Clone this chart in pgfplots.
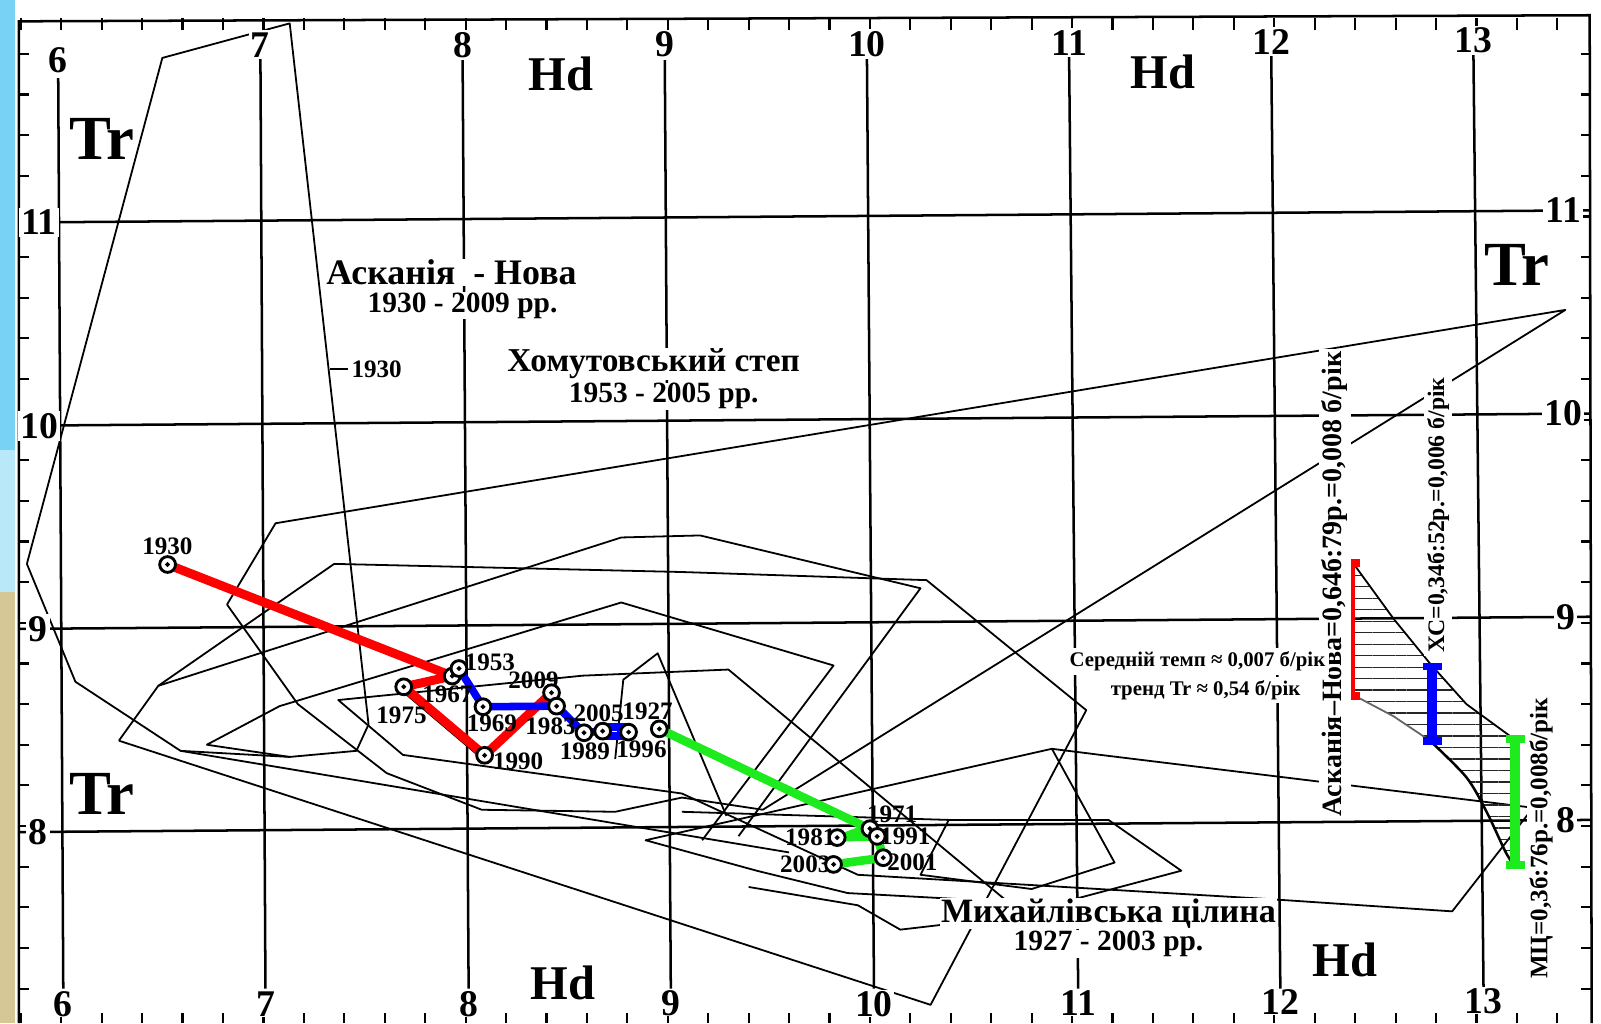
\documentclass[border=0pt]{standalone}
\usepackage{fontspec}
\setmainfont{Liberation Serif}
\usepackage{pgfplots}
\pgfplotsset{compat=1.18}
\usetikzlibrary{patterns.meta}
\definecolor{cred}{RGB}{255,0,0}
\definecolor{cblue}{RGB}{0,0,255}
\definecolor{cgreen}{RGB}{30,235,30}
\definecolor{stripblue}{RGB}{120,210,245}
\definecolor{stripblue2}{RGB}{185,232,248}
\definecolor{striptan}{RGB}{214,200,150}
\tikzset{
  poly/.style={black, line width=0.5pt, line join=round, mark=none},
  grd/.style={black, line width=0.7pt},
  lbl/.style={font=\bfseries\fontsize{10.5}{11}\selectfont, fill=white, inner sep=0.6pt},
  yr/.style={font=\bfseries\fontsize{7}{8}\selectfont, inner sep=0pt},
  big/.style={font=\bfseries\fontsize{17.5}{18}\selectfont, inner sep=0pt},
  hd/.style={font=\bfseries\fontsize{13.5}{14}\selectfont, inner sep=0pt},
  ttl/.style={font=\bfseries\fontsize{10}{11}\selectfont, fill=white, inner sep=0.2pt},
  sub/.style={font=\bfseries\fontsize{8.2}{9}\selectfont, fill=white, inner sep=0.2pt},
  rot/.style={font=\bfseries\fontsize{7}{8}\selectfont, fill=white, inner sep=0.8pt, rotate=90},
}
\begin{document}
\begin{tikzpicture}
\begin{axis}[
  scale only axis, width=15.68cm, height=10.02cm,
  xmin=5.697, xmax=13.616, ymin=7.030, ymax=12.065,
  hide axis, clip=false,
]
% background
\fill[white] (axis cs:5.697,7.030) rectangle (axis cs:13.616,12.065);
\fill[stripblue] (axis cs:5.697,9.85) rectangle (axis cs:5.773,12.065);
\fill[stripblue2] (axis cs:5.697,9.15) rectangle (axis cs:5.773,9.85);
\fill[striptan] (axis cs:5.697,7.030) rectangle (axis cs:5.773,9.15);

% frame
\draw[grd] (axis cs:5.79,7.03) -- (axis cs:5.79,11.96) -- (axis cs:13.56,11.99) -- (axis cs:13.57,7.03);
\pgfplotsforeachungrouped \x in {5.8,6.0,...,13.41} {
  \edef\temp{\noexpand\draw[black, line width=0.6pt] (axis cs:\x,11.975) -- (axis cs:\x,11.915);
  \noexpand\draw[black, line width=0.6pt] (axis cs:\x,7.03) -- (axis cs:\x,7.08);}
  \temp
}
\pgfplotsforeachungrouped \y in {7.2,7.4,...,11.81} {
  \edef\temp{\noexpand\draw[black, line width=0.6pt] (axis cs:5.79,\y) -- (axis cs:5.84,\y);
  \noexpand\draw[black, line width=0.6pt] (axis cs:13.565,\y) -- (axis cs:13.515,\y);}
  \temp
}

% grid
\draw[grd] (axis cs:5.985,11.68) -- (axis cs:6.01,7.2);
\draw[grd] (axis cs:6.985,11.80) -- (axis cs:7.01,7.2);
\draw[grd] (axis cs:7.985,11.80) -- (axis cs:8.015,7.2);
\draw[grd] (axis cs:8.985,11.80) -- (axis cs:9.015,7.2);
\draw[grd] (axis cs:9.985,11.80) -- (axis cs:10.02,7.2);
\draw[grd] (axis cs:10.985,11.80) -- (axis cs:11.03,7.2);
\draw[grd] (axis cs:11.985,11.80) -- (axis cs:12.03,7.2);
\draw[grd] (axis cs:12.985,11.80) -- (axis cs:13.035,7.2);
\draw[grd] (axis cs:5.79,7.97) -- (axis cs:13.565,8.03);
\draw[grd] (axis cs:5.79,8.97) -- (axis cs:13.565,9.03);
\draw[grd] (axis cs:5.79,9.97) -- (axis cs:13.565,10.03);
\draw[grd] (axis cs:5.79,10.97) -- (axis cs:13.565,11.03);

% polygons
\addplot[poly] coordinates {(5.83,9.29)(6.50,11.78)(7.13,11.95)(7.52,8.50)(7.46,8.37)(7.13,8.34)(6.59,8.37)(6.07,8.71)(5.83,9.29)};
\addplot[poly] coordinates {(6.285,8.42)(6.48,8.69)(7.35,9.29)(9.07,9.25)(10.28,9.21)(11.07,8.57)(10.30,7.12)(6.285,8.42)};
\addplot[poly] coordinates {(9.47,8.08)(13.44,10.54)(7.06,9.49)(6.82,9.09)(7.17,8.60)(7.61,8.26)(8.08,8.08)(8.74,8.07)(9.07,8.14)(9.47,8.08)};
\addplot[poly] coordinates {(7.13,8.34)(6.72,8.40)(7.08,8.59)(8.77,9.10)(9.82,8.79)(9.17,7.93)};
\addplot[poly] coordinates {(6.48,8.69)(8.77,9.42)(9.16,9.43)(10.25,9.17)(9.35,7.95)};
\addplot[poly] coordinates {(9.07,8.16)(7.69,8.35)(7.37,8.62)(8.58,8.74)(9.30,8.77)(10.69,7.62)(10.45,7.64)(9.89,7.67)(9.44,7.78)(8.89,7.93)(10.90,8.38)(11.14,8.35)(13.28,8.09)(12.88,7.58)(11.98,7.64)(9.94,7.76)(9.07,8.16)};
\addplot[poly] coordinates {(8.74,8.33)(8.78,8.72)(8.95,8.85)(9.29,8.05)};
\addplot[poly] coordinates {(9.07,8.07)(10.39,8.03)(11.18,8.03)(11.54,7.78)(10.67,7.55)(10.15,7.49)(9.94,7.61)(9.40,7.70)};
\addplot[poly] coordinates {(10.90,8.38)(11.21,7.82)(10.80,7.69)(10.25,7.76)(10.39,8.03)};
\addplot[poly] coordinates {(6.59,8.37)(9.6,7.87)};
% 1930 tick on Askania envelope
\addplot[poly, line width=0.7pt] coordinates {(7.33,10.25)(7.42,10.25)};
\node[yr] at (axis cs:7.56,10.25) {1930};

% hatched area
\addplot[draw=none, pattern={Lines[angle=0,distance=3.2pt,line width=0.35pt]}, pattern color=black!85] coordinates {(12.40,9.28)(12.59,9.02)(12.77,8.80)(12.95,8.60)(13.17,8.44)(13.17,7.83)(13.14,7.88)(13.05,8.07)(12.95,8.24)(12.77,8.42)(12.59,8.54)(12.40,8.64)} -- cycle;
\addplot[poly] coordinates {(12.40,9.28)(12.59,9.02)(12.77,8.80)(12.95,8.60)(13.17,8.44)};
\addplot[poly, black!60] coordinates {(12.40,8.64)(12.59,8.54)(12.77,8.42)};
\addplot[poly, line width=0.7pt, smooth] coordinates {(12.77,8.42)(12.95,8.24)(13.05,8.07)(13.14,7.88)(13.17,7.83)};

% bars
\addplot[cred, line width=2.6pt] coordinates {(12.376,8.64)(12.376,9.294)};
\addplot[cred, line width=2.2pt] coordinates {(12.33,9.294)(12.425,9.294)};
\addplot[cred, line width=2.2pt] coordinates {(12.33,8.64)(12.425,8.64)};
\addplot[cblue, line width=2.6pt] coordinates {(12.78,8.417)(12.78,8.785)};
\addplot[cblue, line width=2.2pt] coordinates {(12.735,8.785)(12.83,8.785)};
\addplot[cblue, line width=2.2pt] coordinates {(12.735,8.417)(12.83,8.417)};
\addplot[cgreen, line width=2.6pt] coordinates {(13.19,7.81)(13.19,8.43)};
\addplot[cgreen, line width=2.2pt] coordinates {(13.145,8.43)(13.24,8.43)};
\addplot[cgreen, line width=2.2pt] coordinates {(13.145,7.81)(13.24,7.81)};

% trajectories
\addplot[poly] coordinates {(7.674,8.675)(8.074,8.338)};
\addplot[cred, line width=2.5pt, line join=round] coordinates {(6.526,9.287)(7.934,8.738)(7.694,8.685)(8.094,8.348)(8.425,8.656)};
\addplot[cblue, line width=2.1pt, line join=round] coordinates {(7.967,8.775)(8.086,8.587)(8.45,8.59)(8.586,8.459)(8.678,8.467)};
\addplot[cblue, line width=2.1pt] coordinates {(8.678,8.487)(8.806,8.487)};
\addplot[cblue, line width=2.1pt] coordinates {(8.678,8.443)(8.806,8.443)};
\addplot[cgreen, line width=2.4pt, line join=round] coordinates {(8.958,8.478)(9.99,7.99)(9.87,7.945)(10.036,7.949)(10.066,7.844)(9.82,7.811)};

% circles
\addplot[only marks, mark=*, mark size=2.2pt, mark options={fill=white, draw=black, line width=0.8pt}] coordinates {
(6.526,9.287)(7.934,8.738)(7.967,8.775)(7.694,8.685)(8.094,8.348)(8.086,8.587)(8.425,8.656)(8.45,8.59)(8.586,8.459)(8.678,8.467)(8.806,8.462)(8.958,8.478)(10.0,7.987)(9.838,7.943)(10.036,7.949)(10.066,7.844)(9.82,7.811)};
\addplot[only marks, mark=*, mark size=0.45pt, black] coordinates {
(6.526,9.287)(7.934,8.738)(7.967,8.775)(7.694,8.685)(8.094,8.348)(8.086,8.587)(8.425,8.656)(8.45,8.59)(8.586,8.459)(8.678,8.467)(8.806,8.462)(8.958,8.478)(10.0,7.987)(9.838,7.943)(10.036,7.949)(10.066,7.844)(9.82,7.811)};

% year labels
\node[yr] at (axis cs:6.525,9.375) {1930};
\node[yr] at (axis cs:8.12,8.805) {1953};
\node[yr] at (axis cs:7.91,8.65) {1967};
\node[yr] at (axis cs:7.683,8.545) {1975};
\node[yr] at (axis cs:8.13,8.505) {1969};
\node[yr] at (axis cs:8.26,8.318) {1990};
\node[yr] at (axis cs:8.336,8.715) {2009};
\node[yr] at (axis cs:8.42,8.49) {1983};
\node[yr] at (axis cs:8.658,8.555) {2005};
\node[yr] at (axis cs:8.59,8.37) {1989};
\node[yr] at (axis cs:8.87,8.378) {1996};
\node[yr] at (axis cs:8.90,8.565) {1927};
\node[yr] at (axis cs:10.11,8.06) {1971};
\node[yr] at (axis cs:9.705,7.943) {1981};
\node[yr] at (axis cs:10.175,7.949) {1991};
\node[yr] at (axis cs:10.21,7.823) {2001};
\node[yr] at (axis cs:9.68,7.811) {2003};

% axis number labels
\node[lbl] at (axis cs:5.985,11.77) {6};
\node[lbl] at (axis cs:6.985,11.845) {7};
\node[lbl] at (axis cs:7.985,11.845) {8};
\node[lbl] at (axis cs:8.985,11.845) {9};
\node[lbl] at (axis cs:9.985,11.85) {10};
\node[lbl] at (axis cs:10.985,11.855) {11};
\node[lbl] at (axis cs:11.985,11.86) {12};
\node[lbl] at (axis cs:12.985,11.865) {13};
\node[lbl, inner sep=0.2pt] at (axis cs:6.01,7.125) {6};
\node[lbl, inner sep=0.2pt] at (axis cs:7.01,7.125) {7};
\node[lbl, inner sep=0.2pt] at (axis cs:8.015,7.125) {8};
\node[lbl, inner sep=0.2pt] at (axis cs:9.015,7.13) {9};
\node[lbl, inner sep=0.2pt] at (axis cs:10.02,7.125) {10};
\node[lbl, inner sep=0.2pt] at (axis cs:11.03,7.13) {11};
\node[lbl, inner sep=0.2pt] at (axis cs:12.03,7.135) {12};
\node[lbl, inner sep=0.2pt] at (axis cs:13.035,7.14) {13};
\node[lbl] at (axis cs:5.89,10.97) {11};
\node[lbl] at (axis cs:5.89,9.97) {10};
\node[lbl] at (axis cs:5.885,8.97) {9};
\node[lbl] at (axis cs:5.885,7.97) {8};
\node[lbl] at (axis cs:13.43,11.03) {11};
\node[lbl] at (axis cs:13.43,10.03) {10};
\node[lbl] at (axis cs:13.44,9.03) {9};
\node[lbl] at (axis cs:13.44,8.03) {8};

% Tr / Hd
\node[big] at (axis cs:6.2,11.38) {Tr};
\node[big] at (axis cs:6.2,8.16) {Tr};
\node[big] at (axis cs:13.20,10.76) {Tr};
\node[hd] at (axis cs:8.47,11.70) {Hd};
\node[hd] at (axis cs:11.45,11.71) {Hd};
\node[hd] at (axis cs:8.48,7.23) {Hd};
\node[hd] at (axis cs:12.35,7.34) {Hd};

% titles
\node[ttl] at (axis cs:7.93,10.725) {Асканія\ \ - Нова};
\node[sub] at (axis cs:7.985,10.56) {1930 - 2009 рр.};
\node[ttl, font=\bfseries\fontsize{9.3}{10}\selectfont] at (axis cs:8.93,10.275) {Хомутовський степ};
\node[sub] at (axis cs:8.98,10.115) {1953 - 2005 рр.};
\node[ttl, font=\bfseries\fontsize{9.5}{10}\selectfont] at (axis cs:11.18,7.57) {Михайлівська цілина};
\node[sub] at (axis cs:11.18,7.42) {1927 - 2003 рр.};
\node[rot, font=\bfseries\fontsize{7.8}{8}\selectfont] at (axis cs:12.30,9.19) {Асканія–Нова=0,64б:79р.=0,008 б/рік};
\node[rot, font=\bfseries\fontsize{6.6}{7}\selectfont] at (axis cs:12.81,9.53) {ХС=0,34б:52р.=0,006 б/рік};
\node[rot] at (axis cs:13.32,7.94) {МЦ=0,3б:76р.=0,008б/рік};
\node[font=\bfseries\fontsize{5.8}{7}\selectfont, fill=white, inner sep=1pt] at (axis cs:11.62,8.81) {Середній темп ≈ 0,007 б/рік};
\node[font=\bfseries\fontsize{5.8}{7}\selectfont, fill=white, inner sep=1pt] at (axis cs:11.66,8.67) {тренд Tr ≈ 0,54 б/рік};
\end{axis}
\pgfresetboundingbox
\useasboundingbox (current axis.south west) rectangle (current axis.north east);
\end{tikzpicture}
\end{document}
